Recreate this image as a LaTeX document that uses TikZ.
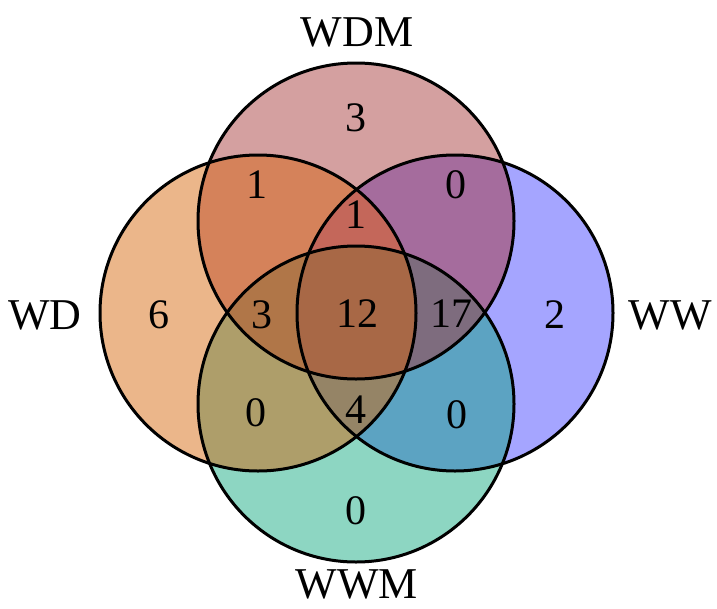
\documentclass[tikz,border=0pt]{standalone}
\usepackage{fontspec}
\setmainfont{Liberation Serif}
% single sets
\definecolor{cT}{HTML}{D4A0A0}
\definecolor{cL}{HTML}{EBB68A}
\definecolor{cR}{HTML}{A5A5FF}
\definecolor{cB}{HTML}{8DD6C2}
% pairs
\definecolor{cTL}{HTML}{D5825A}
\definecolor{cTR}{HTML}{A56C9D}
\definecolor{cLB}{HTML}{AE9E6A}
\definecolor{cRB}{HTML}{5CA3C2}
% triples
\definecolor{cTLR}{HTML}{C4675A}
\definecolor{cTLB}{HTML}{B07648}
\definecolor{cTRB}{HTML}{7E6C7E}
\definecolor{cLRB}{HTML}{958466}
% all
\definecolor{cAll}{HTML}{A86846}
\begin{document}
\begin{tikzpicture}[x=1pt,y=-1pt,
  num/.style={font=\fontsize{42}{46}\selectfont, inner sep=0pt},
  setlabel/.style={font=\fontsize{44}{48}\selectfont, inner sep=0pt},
  outline/.style={draw=black, line width=3pt}]
\useasboundingbox (0,0) rectangle (717,608);
\def\pT{(356,221) circle[radius=158]}
\def\pL{(258,313) circle[radius=158]}
\def\pR{(455,313) circle[radius=158]}
\def\pB{(356,404) circle[radius=158]}
% single fills
\fill[cT] \pT; \fill[cL] \pL; \fill[cR] \pR; \fill[cB] \pB;
% pairs
\begin{scope}\clip \pT; \fill[cTL] \pL; \end{scope}
\begin{scope}\clip \pT; \fill[cTR] \pR; \end{scope}
\begin{scope}\clip \pB; \fill[cLB] \pL; \end{scope}
\begin{scope}\clip \pB; \fill[cRB] \pR; \end{scope}
% triples
\begin{scope}\clip \pT; \clip \pL; \fill[cTLR] \pR; \end{scope}
\begin{scope}\clip \pT; \clip \pL; \fill[cTLB] \pB; \end{scope}
\begin{scope}\clip \pT; \clip \pR; \fill[cTRB] \pB; \end{scope}
\begin{scope}\clip \pL; \clip \pR; \fill[cLRB] \pB; \end{scope}
% all four
\begin{scope}\clip \pT; \clip \pL; \clip \pR; \fill[cAll] \pB; \end{scope}
% outlines
\draw[outline] \pT; \draw[outline] \pL; \draw[outline] \pR; \draw[outline] \pB;
% region counts
\node[num] (nT)    at (356,118) {3};
\node[num] (nTL)   at (257,185) {1};
\node[num] (nTR)   at (456,185) {0};
\node[num] (nTLR)  at (356,215) {1};
\node[num] (nL)    at (159,315) {6};
\node[num] (nTLB)  at (262,315) {3};
\node[num] (nAll)  at (357,314) {12};
\node[num] (nTRB)  at (451,314) {17};
\node[num] (nR)    at (555,315) {2};
\node[num] (nLB)   at (256,413) {0};
\node[num] (nLRB)  at (356,410) {4};
\node[num] (nRB)   at (457,415) {0};
\node[num] (nB)    at (356,511) {0};
% set labels
\node[setlabel] (lT) at (357,32) {WDM};
\node[setlabel] (lL) at (45,315) {WD};
\node[setlabel] (lR) at (670,315) {WW};
\node[setlabel] (lB) at (357,584) {WWM};
\end{tikzpicture}
\end{document}
